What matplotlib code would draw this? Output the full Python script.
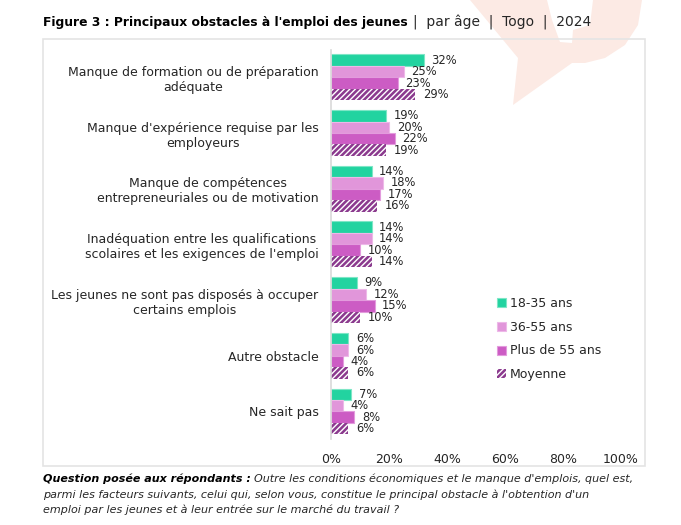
import matplotlib
matplotlib.use("Agg")
import matplotlib.pyplot as plt
import numpy as np
from matplotlib.patches import Rectangle, Polygon

plt.rcParams['font.family'] = ['DejaVu Sans']

categories = [
    "Manque de formation ou de préparation\nadéquate",
    "Manque d'expérience requise par les\nemployeurs",
    "Manque de compétences\nentrepreneuriales ou de motivation",
    "Inadéquation entre les qualifications\nscolaires et les exigences de l'emploi",
    "Les jeunes ne sont pas disposés à occuper\ncertains emplois",
    "Autre obstacle",
    "Ne sait pas",
]
series_names = ["18-35 ans", "36-55 ans", "Plus de 55 ans", "Moyenne"]
v_18_35 = [32, 19, 14, 14, 9, 6, 7]
v_36_55 = [25, 20, 18, 14, 12, 6, 4]
v_55_plus = [23, 22, 17, 10, 15, 4, 8]
v_moyenne = [29, 19, 16, 14, 10, 6, 6]
xticks = [0, 20, 40, 60, 80, 100]
xtick_labels = ["0%", "20%", "40%", "60%", "80%", "100%"]

W, H = 681, 525
fig = plt.figure(figsize=(W / 100, H / 100), dpi=100)
fig.patch.set_facecolor('white')

# background axes in pixel coordinates
bg = fig.add_axes([0, 0, 1, 1], zorder=-1)
bg.set_xlim(0, W)
bg.set_ylim(H, 0)
bg.axis('off')

# faint watermark
bg.add_patch(Polygon([[470, 0], [642, 0], [638, 25], [625, 45], [605, 58], [585, 63],
                      [572, 63], [513, 105], [518, 58]],
                     closed=True, facecolor='#FCEAE4', edgecolor='none', zorder=0))
bg.add_patch(Polygon([[547, 0], [593, 0], [590, 25], [573, 30], [572, 43], [560, 42], [552, 20]],
                     closed=True, facecolor='white', edgecolor='none', zorder=0.5))
# frame
bg.add_patch(Rectangle((43, 38.5), 645 - 43, 466 - 38.5, fill=False,
                       edgecolor='#E4E4E4', lw=1.2, zorder=1))

text_color = '#262626'

# title
t1 = bg.text(43, 22.5, "Figure 3 : Principaux obstacles à l'emploi des jeunes",
             fontsize=8.95, fontweight='bold', color='black', va='center', ha='left')
fig.canvas.draw()
r = fig.canvas.get_renderer()
bb = t1.get_window_extent(r)
bg.text(bb.x1 + 5, 22.5, "|  par âge  |  Togo  |  2024", fontsize=10,
        color=text_color, va='center', ha='left')

# footnote
fs_note = 8.05
f1 = bg.text(43, 479, "Question posée aux répondants :", fontsize=fs_note,
             fontweight='bold', fontstyle='italic', color='black', va='center', ha='left')
fig.canvas.draw()
bb = f1.get_window_extent(r)
bg.text(bb.x1 + 3, 479, "Outre les conditions économiques et le manque d'emplois, quel est,",
        fontsize=fs_note, fontstyle='italic', color=text_color, va='center', ha='left')
bg.text(43, 495, "parmi les facteurs suivants, celui qui, selon vous, constitue le principal obstacle à l'obtention d'un",
        fontsize=fs_note, fontstyle='italic', color=text_color, va='center', ha='left')
bg.text(43, 510, "emploi par les jeunes et à leur entrée sur le marché du travail ?",
        fontsize=fs_note, fontstyle='italic', color=text_color, va='center', ha='left')

# main axes
ax_left, ax_right = 331, 621
ax_top, ax_bottom = 49.5, 439.3
ax = fig.add_axes([ax_left / W, (H - ax_bottom) / H, (ax_right - ax_left) / W,
                   (ax_bottom - ax_top) / H])
ax.set_facecolor('none')

y = np.arange(len(categories))
h = 0.206
offsets = [-1.5 * h, -0.5 * h, 0.5 * h, 1.5 * h]
face = ['#22D3A0', '#E196DA', '#CC5CC4', '#8B3A8E']
edge = ['#7EE6C6', '#EDB8E8', '#E39BDD', 'white']
hatches = [None, None, None, '//////']
data = [v_18_35, v_36_55, v_55_plus, v_moyenne]

plt.rcParams['hatch.linewidth'] = 1.0
handles = []
for i, vals in enumerate(data):
    if hatches[i]:
        bars = ax.barh(y + offsets[i], vals, height=h, color=face[i], edgecolor=edge[i],
                       lw=0, hatch=hatches[i], label=series_names[i])
    else:
        bars = ax.barh(y + offsets[i], vals, height=h, color=face[i], edgecolor=edge[i],
                       lw=0.8, label=series_names[i])
    handles.append(bars)
    ax.bar_label(bars, labels=[f"{v}%" for v in vals], padding=5.5, fontsize=8.3,
                 color=text_color)

ax.set_ylim(len(categories) - 0.5, -0.5)
ax.set_xlim(0, 100)
ax.set_xticks(xticks)
ax.set_xticklabels(xtick_labels, fontsize=9, color=text_color)
ax.set_yticks(y)
ax.set_yticklabels(categories, fontsize=9, color=text_color)
for lbl in ax.get_yticklabels():
    lbl.set_multialignment('center')
ax.tick_params(axis='both', length=0)
ax.tick_params(axis='x', pad=10)
ax.tick_params(axis='y', pad=9)
for s in ['top', 'right', 'bottom']:
    ax.spines[s].set_visible(False)
ax.spines['left'].set_color('#D9D9D9')
ax.spines['left'].set_linewidth(1.2)

leg = ax.legend(handles=handles, labels=series_names, loc='upper left',
                bbox_to_anchor=(497, 297), bbox_transform=bg.transData,
                frameon=False, fontsize=9, handlelength=0.75, handleheight=0.75,
                handletextpad=0.25, labelspacing=0.86, borderpad=0, borderaxespad=0)
for t in leg.get_texts():
    t.set_color(text_color)

fig.savefig("out.png", dpi=100, facecolor='white')
